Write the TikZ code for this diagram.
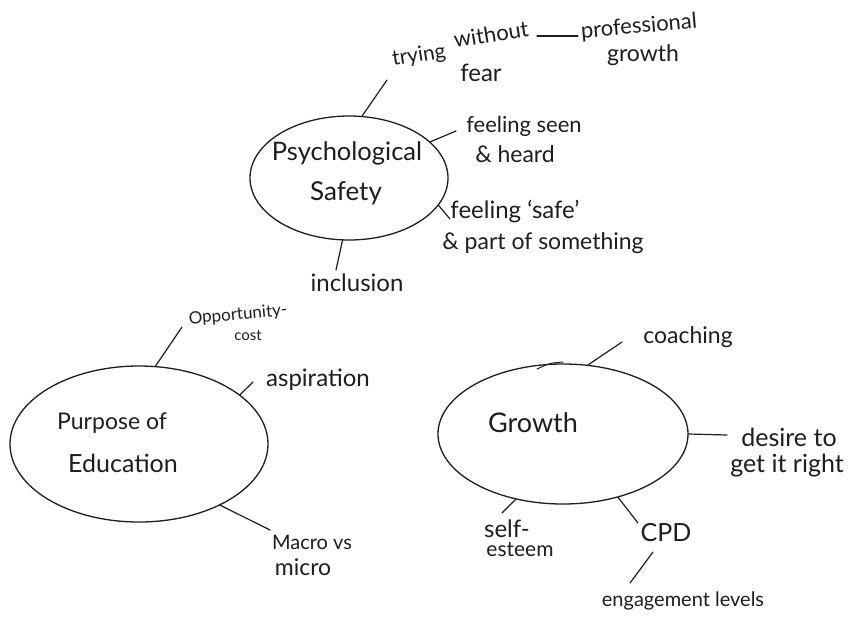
\documentclass[tikz,border=0pt]{standalone}
\usepackage{fontspec}
\setmainfont{Lato}
\usetikzlibrary{shapes.geometric}
\definecolor{ink}{HTML}{1E1E1E}
\newcommand{\fsz}[1]{\fontsize{#1}{#1}\selectfont}
\begin{document}
\begin{tikzpicture}[x=1pt,y=-1pt,
  bubble/.style={draw=ink, line width=1.3pt, ellipse, inner sep=0pt},
  lbl/.style={text=ink, font=\fsz{22}, inner sep=0pt},
  big/.style={text=ink, font=\fsz{25}, inner sep=0pt},
  link/.style={draw=ink, line width=1.2pt, line cap=round}]
\useasboundingbox[fill=white] (0,0) rectangle (851,622);

% ---------- Psychological Safety ----------
\node[bubble, minimum width=198pt, minimum height=124pt] (ps) at (349,178) {};
\node[big, font=\fsz{25.5}] (ps1) at (347,153) {Psychological};
\node[big, font=\fsz{26}] (ps2) at (346,193) {Safety};

\node[lbl, font=\fsz{21}, rotate=9] (tw1) at (419,56) {trying};
\node[lbl, rotate=9] (tw2) at (491,34) {without};
\node[lbl, font=\fsz{24}] (tw3) at (481,73) {fear};
\coordinate (c1) at (387,80);
\draw[link] (ps.78) -- (c1);

\coordinate (c2a) at (537,36);
\coordinate (c2b) at (578,36);
\draw[link] (c2a) -- (c2b);
\node[lbl, rotate=5] (pg1) at (639,27) {professional};
\node[lbl, font=\fsz{23}] (pg2) at (643,55) {growth};

\node[lbl] (fs1) at (524,126) {feeling seen};
\node[lbl, font=\fsz{23}] (fs2) at (515,154) {\& heard};
\coordinate (c3) at (456,131);
\draw[link] (ps.24) -- (c3);

\node[lbl, font=\fsz{24}] (sf1) at (515,212) {feeling `safe'};
\node[lbl, font=\fsz{23}] (sf2) at (543,243) {\& part of something};
\coordinate (c4) at (450,219);
\draw[link] (ps.-17) -- (c4);

\node[lbl, font=\fsz{24}] (inc) at (357,283) {inclusion};
\coordinate (c5) at (336,270);
\draw[link] (ps.-96) -- (c5);

% ---------- Purpose of Education ----------
\node[bubble, minimum width=258pt, minimum height=156pt] (pe) at (139,444) {};
\node[big, font=\fsz{23}] (pe1) at (112,423) {Purpose of};
\node[big, font=\fsz{25}] (pe2) at (123,463) {Education};

\node[lbl, font=\fsz{17}, rotate=5] (oc1) at (238,315) {Opportunity-};
\node[lbl, font=\fsz{15}] (oc2) at (248,336) {cost};
\coordinate (c6) at (182,327);
\draw[link] (pe.78) -- (c6);

\node[lbl, font=\fsz{24}] (asp) at (318,380) {aspiration};
\coordinate (c7) at (253,382);
\draw[link] (pe.26) -- (c7);

\node[lbl, font=\fsz{20}] (mm1) at (312,542) {Macro vs};
\node[lbl, font=\fsz{23}] (mm2) at (303,567) {micro};
\coordinate (c8) at (270,530);
\draw[link] (pe.-37) -- (c8);

% ---------- Growth ----------
\node[bubble, minimum width=250pt, minimum height=140pt] (gr) at (563,434) {};
\node[big, font=\fsz{27}] (gr1) at (533,423) {Growth};
\coordinate (h1) at (537,369);
\coordinate (h2) at (563,362);
\draw[link, line width=1pt] (h1) .. controls (550,363) .. (h2);

\node[lbl, font=\fsz{23}] (co) at (688,337) {coaching};
\coordinate (c9) at (622,342);
\draw[link] (gr.70) -- (c9);

\node[lbl, font=\fsz{25}] (dr1) at (789,437) {desire to};
\node[lbl, font=\fsz{25}] (dr2) at (787,466) {get it right};
\coordinate (c10) at (727,435);
\draw[link] (gr.0) -- (c10);

\node[lbl, font=\fsz{24}] (se1) at (507,529) {self-};
\node[lbl, font=\fsz{21}] (se2) at (520,550) {esteem};
\coordinate (c11) at (502,513);
\draw[link] (gr.-126) -- (c11);

\node[lbl, font=\fsz{25}] (cpd) at (666,533) {CPD};
\coordinate (c12) at (638,523);
\draw[link] (gr.-49) -- (c12);

\node[lbl, font=\fsz{20}] (eng) at (683,601) {engagement levels};
\coordinate (c13a) at (653,552);
\coordinate (c13b) at (630,583);
\draw[link] (c13a) -- (c13b);
\end{tikzpicture}
\end{document}
